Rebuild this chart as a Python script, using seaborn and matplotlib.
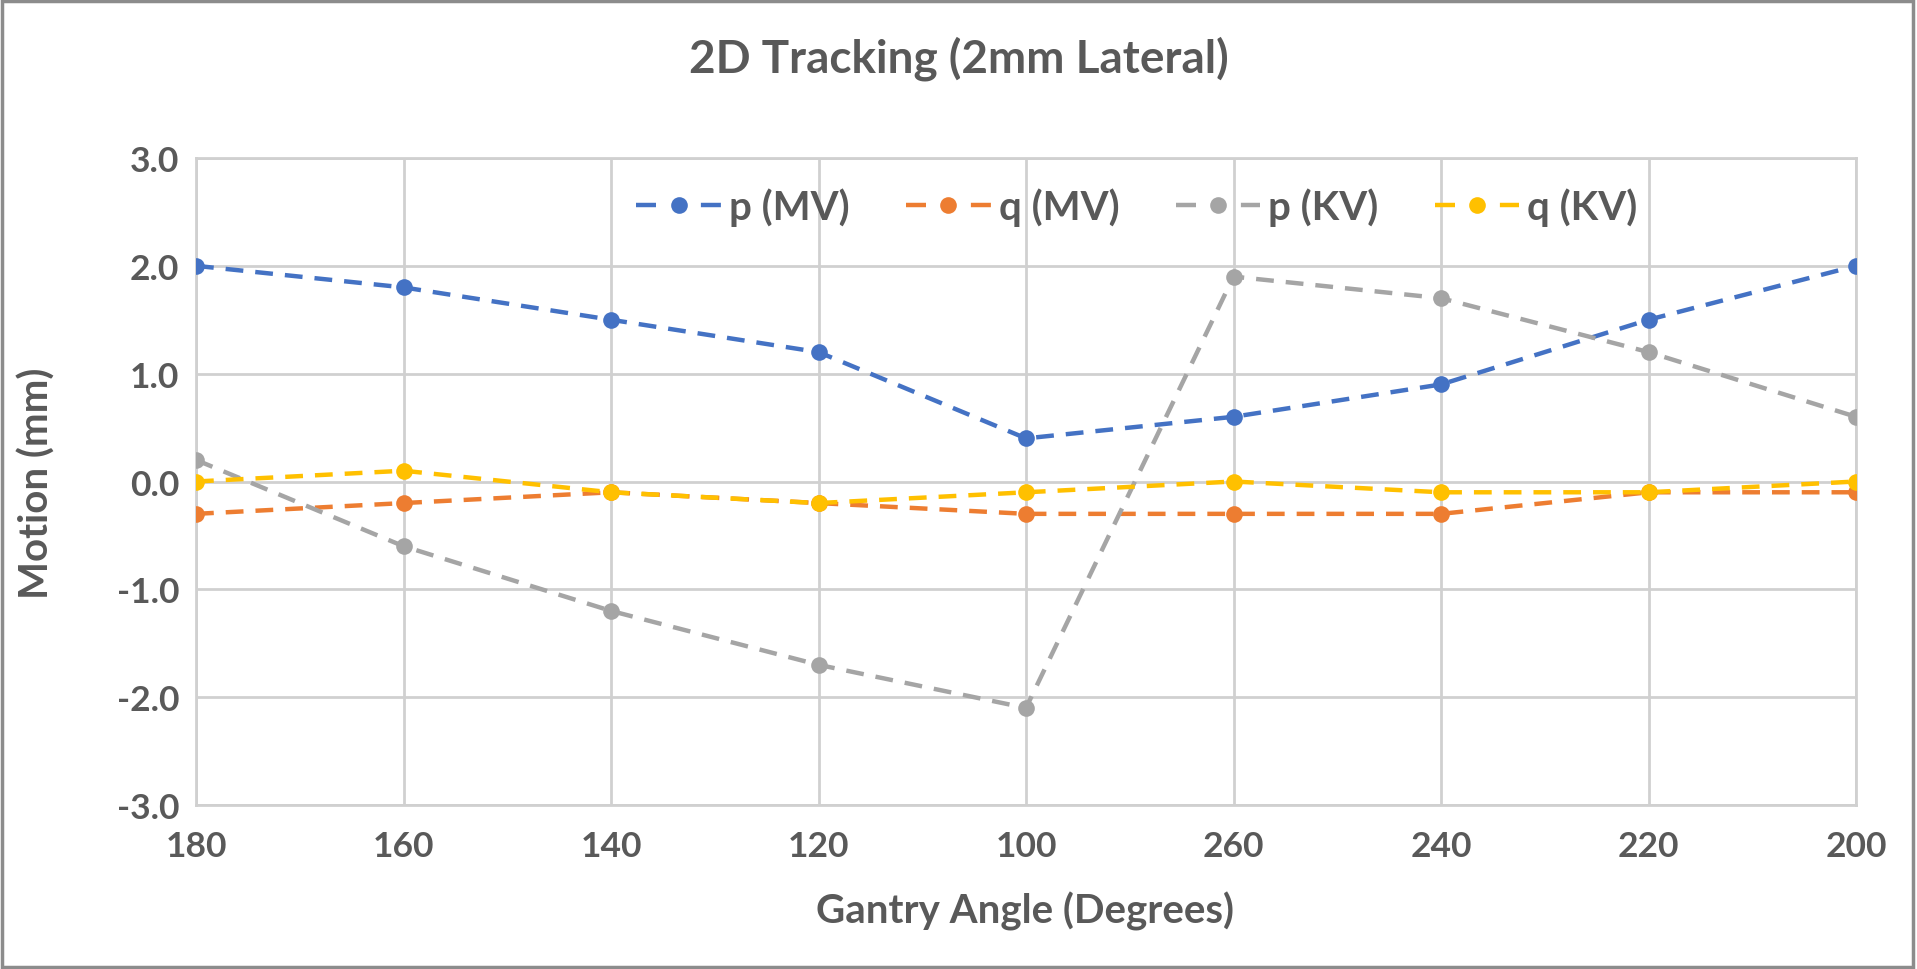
import matplotlib
matplotlib.use("Agg")
import matplotlib.pyplot as plt
import seaborn as sns
import pandas as pd
from matplotlib.patches import Rectangle
from matplotlib.lines import Line2D

categories = ["180", "160", "140", "120", "100", "260", "240", "220", "200"]
p_mv = [2.0, 1.8, 1.5, 1.2, 0.4, 0.6, 0.9, 1.5, 2.0]
q_mv = [-0.3, -0.2, -0.1, -0.2, -0.3, -0.3, -0.3, -0.1, -0.1]
p_kv = [0.2, -0.6, -1.2, -1.7, -2.1, 1.9, 1.7, 1.2, 0.6]
q_kv = [0.0, 0.1, -0.1, -0.2, -0.1, 0.0, -0.1, -0.1, 0.0]
series_names = ["p (MV)", "q (MV)", "p (KV)", "q (KV)"]
y_ticks = [-3.0, -2.0, -1.0, 0.0, 1.0, 2.0, 3.0]

colors = ["#4472C4", "#ED7D31", "#A5A5A5", "#FFC000"]
text_color = "#595959"
grid_color = "#D0D0D0"

sns.set_theme(style="white")
plt.rcParams["font.family"] = ["Lato", "DejaVu Sans"]
plt.rcParams["font.weight"] = "bold"

rows = []
for name, vals in zip(series_names, [p_mv, q_mv, p_kv, q_kv]):
    for i, (c, v) in enumerate(zip(categories, vals)):
        rows.append({"pos": i, "angle": c, "value": v, "series": name})
df = pd.DataFrame(rows)

fig = plt.figure(figsize=(19.17, 9.70), dpi=100)
ax = fig.add_axes([196 / 1917, 1 - 806 / 970, (1856 - 196) / 1917, (806 - 159) / 970])

LW = 3.2
for name, col in zip(series_names, colors):
    sub = df[df["series"] == name]
    sns.lineplot(data=sub, x="pos", y="value", ax=ax, color=col,
                 linewidth=LW, linestyle=(0, (4, 2.7)), marker="o",
                 markersize=12, markeredgewidth=0, dash_capstyle="butt", zorder=3,
                 legend=False)

ax.set_xlim(0, len(categories) - 1)
ax.set_ylim(-3, 3)
ax.set_xticks(range(len(categories)))
ax.set_xticklabels(categories)
ax.set_yticks(y_ticks)
ax.set_yticklabels([f"{t:.1f}" for t in y_ticks])

ax.grid(True, color=grid_color, linewidth=2.0, zorder=0)
ax.set_axisbelow(True)
for s in ax.spines.values():
    s.set_color(grid_color)
    s.set_linewidth(2.0)

ax.tick_params(axis="both", length=0, colors=text_color, labelsize=25.5)
ax.tick_params(axis="x", pad=18)
ax.tick_params(axis="y", pad=12)
for lab in ax.get_xticklabels() + ax.get_yticklabels():
    lab.set_fontweight("bold")
    lab.set_color(text_color)

ax.set_xlabel("")
ax.set_ylabel("")
fig.text(1025 / 1917, 1 - 911 / 970, "Gantry Angle (Degrees)", ha="center", va="center",
         fontsize=29, fontweight="bold", color=text_color)
fig.text(37 / 1917, 1 - 483 / 970, "Motion (mm)", ha="center", va="center",
         rotation=90, fontsize=29, fontweight="bold", color=text_color)
fig.text(0.5, 1 - 59 / 970, "2D Tracking (2mm Lateral)", ha="center", va="center",
         fontsize=33, fontweight="bold", color=text_color)

handles = [Line2D([], [], color=col, linewidth=LW, linestyle=(0, (4.5, 10.1)),
                  marker="o", markersize=12, markeredgewidth=0, dash_capstyle="butt")
           for col in colors]
leg = fig.legend(handles, series_names, ncol=4, frameon=False, loc="center",
                 bbox_to_anchor=(1137 / 1917, 1 - 208 / 970), fontsize=29,
                 handlelength=2.1, handletextpad=0.2, columnspacing=1.4)
for t in leg.get_texts():
    t.set_color(text_color)
    t.set_fontweight("bold")

fig.patches.append(Rectangle((0.001, 0.002), 0.997, 0.996, transform=fig.transFigure,
                             fill=False, edgecolor="#8C8C8C", linewidth=2.5))

fig.savefig("out.png", dpi=100)
